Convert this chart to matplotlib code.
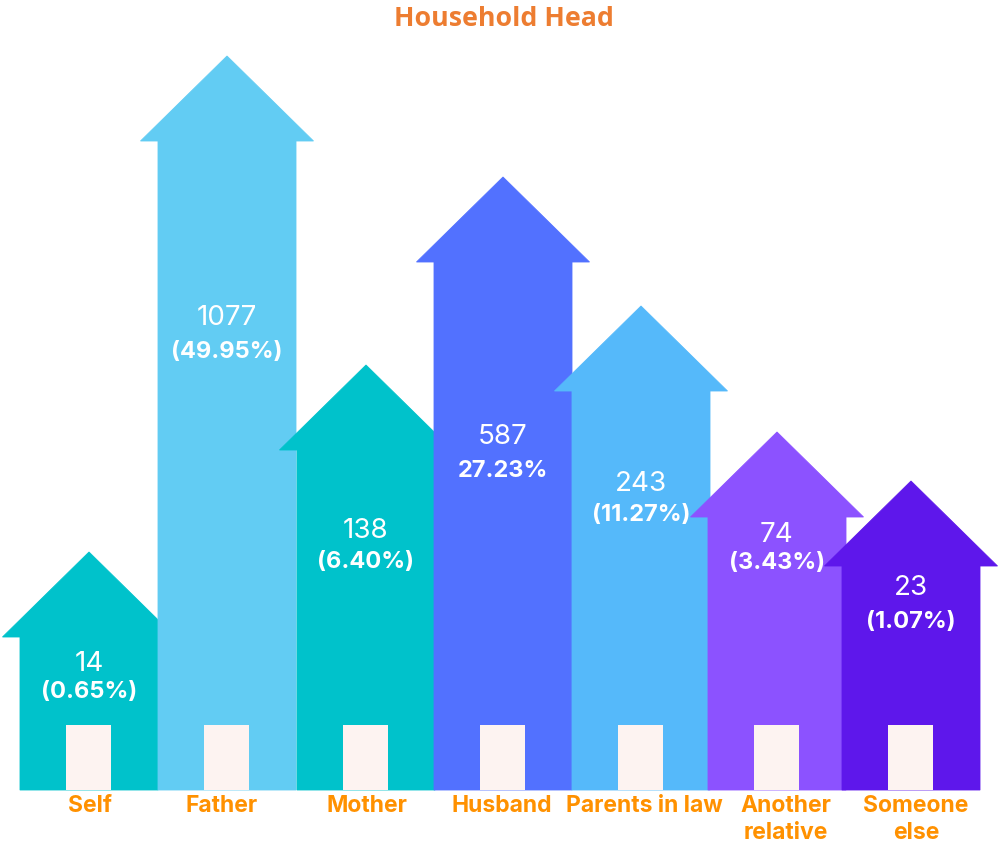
import matplotlib.pyplot as plt
from matplotlib.patches import Polygon, Rectangle

# data
categories = ['Self', 'Father', 'Mother', 'Husband', 'Parents in law', 'Another\nrelative', 'Someone\nelse']
counts = [14, 1077, 138, 587, 243, 74, 23]
percents = ['(0.65%)', '(49.95%)', '(6.40%)', '27.23%', '(11.27%)', '(3.43%)', '(1.07%)']
# apex height of each house (picture scale, not proportional to counts)
house_heights = [238, 734, 425, 613, 484, 358, 309]
colors = ['#00C2CB', '#62CCF3', '#00C2CB', '#5271FF', '#55B9FA', '#8C52FF', '#5E17EB']

# layout (pixel-like units)
centers = [89, 227, 366, 503, 641, 777, 911]
body_w = 138
roof_w = 173
roof_h = 85
door_w = 45
door_h = 65
label_y = [126, 472, 259, 353, 306, 255, 202]
pct_gap = [28, 34, 31, 34, 31, 28, 34]
cat_x = [90, 222, 367, 502, 644, 786, 916]

fig = plt.figure(figsize=(10.02, 8.42), dpi=100)
ax = fig.add_axes([0, 0, 1, 1])
ax.set_xlim(0, 1002)
ax.set_ylim(-52, 790)
ax.axis('off')

for i, (h, c) in enumerate(zip(house_heights, colors)):
    x = centers[i]
    base = h - roof_h
    pts = [
        (x - body_w / 2, 0), (x + body_w / 2, 0), (x + body_w / 2, base),
        (x + roof_w / 2, base), (x, h), (x - roof_w / 2, base),
        (x - body_w / 2, base),
    ]
    ax.add_patch(Polygon(pts, closed=True, facecolor=c, edgecolor=c, linewidth=0.6,
                         zorder=2 + i))
    ax.add_patch(Rectangle((x - door_w / 2, 0), door_w, door_h, facecolor='#FDF3F1',
                           edgecolor='none', zorder=2 + i))
    ax.text(x, label_y[i], str(counts[i]), ha='center', va='center', color='white',
            fontsize=20, family='Inter', zorder=20)
    ax.text(x, label_y[i] - pct_gap[i], percents[i], ha='center', va='center', color='white',
            fontsize=17, fontweight='bold', family='Inter', zorder=20)
    for j, line in enumerate(categories[i].split('\n')):
        ax.text(cat_x[i], -16 - 27 * j, line, ha='center', va='center', color='#FF9100',
                fontsize=16.5, fontweight='bold', family='Inter', zorder=20)

fig.text(0.503, 0.978, 'Household Head', ha='center', va='center', color='#ED7D31',
         fontsize=19.3, fontweight='bold', family='Open Sans')

fig.savefig('out.png', dpi=100)
